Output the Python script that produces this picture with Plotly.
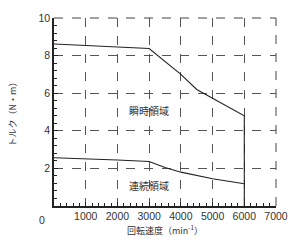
import plotly.graph_objects as go

# Data
upper_x = [0, 1000, 2000, 3000, 4000, 4500, 6000, 6000]
upper_y = [8.62, 8.55, 8.47, 8.38, 7.0, 6.2, 4.8, 0]
lower_x = [0, 1000, 2000, 3000, 3500, 4000, 5000, 6000]
lower_y = [2.57, 2.52, 2.45, 2.37, 2.05, 1.8, 1.45, 1.18]
x_ticks = [1000, 2000, 3000, 4000, 5000, 6000, 7000]
y_ticks = [2, 4, 6, 8, 10]
region_labels = ["瞬時領域", "連続領域"]
region_pos = [(3000, 5.1), (3000, 1.1)]

JP = "Noto Sans CJK JP"
NUM = "Liberation Sans"

fig = go.Figure()
fig.add_trace(go.Scatter(x=upper_x, y=upper_y, mode="lines",
                         line=dict(color="#222", width=1.1), showlegend=False))
fig.add_trace(go.Scatter(x=lower_x, y=lower_y, mode="lines",
                         line=dict(color="#222", width=1.1), showlegend=False))

for t, (px, py) in zip(region_labels, region_pos):
    fig.add_annotation(x=px, y=py, text=t, showarrow=False,
                       font=dict(family=JP, size=10, color="#333"))

# corner "0"
fig.add_annotation(x=0, y=0, text="0", showarrow=False, xanchor="right", yanchor="top",
                   xshift=-7, yshift=-6, font=dict(family=NUM, size=10.5, color="#333"))

# dashed top/right borders
fig.add_shape(type="line", xref="paper", yref="paper", x0=0, x1=1, y0=1, y1=1,
              line=dict(color="#444", width=1, dash="dash"))
fig.add_shape(type="line", xref="paper", yref="paper", x0=1, x1=1, y0=0, y1=1,
              line=dict(color="#444", width=1, dash="dash"))

fig.update_xaxes(range=[0, 7000], tickvals=x_ticks, ticktext=[str(v) for v in x_ticks],
                 showgrid=True, gridcolor="#555", griddash="dash", gridwidth=1,
                 showline=True, linecolor="#222", linewidth=1.5, mirror=False,
                 ticks="inside", ticklen=4, tickcolor="#222",
                 minor=dict(dtick=200, tick0=0, ticks="inside", ticklen=3, tickcolor="#222", showgrid=False),
                 tickfont=dict(family=NUM, size=10.5, color="#333"), zeroline=False,
                 title=dict(text="回転速度（min<sup>-1</sup>）", font=dict(family=JP, size=9, color="#333"), standoff=6))
fig.update_yaxes(range=[0, 10], tickvals=y_ticks, ticktext=[str(v) for v in y_ticks],
                 showgrid=True, gridcolor="#555", griddash="dash", gridwidth=1,
                 showline=True, linecolor="#222", linewidth=1.5, mirror=False,
                 ticks="inside", ticklen=4, tickcolor="#222",
                 minor=dict(dtick=0.4, tick0=0, ticks="inside", ticklen=3, tickcolor="#222", showgrid=False),
                 tickfont=dict(family=NUM, size=10.5, color="#333"), zeroline=False,
                 title=dict(text="トルク（N・m）", font=dict(family=JP, size=9, color="#333"), standoff=20))

fig.update_layout(width=300, height=247, margin=dict(l=53, r=21, t=17, b=37),
                  plot_bgcolor="white", paper_bgcolor="white")
fig.write_html("out.html")
